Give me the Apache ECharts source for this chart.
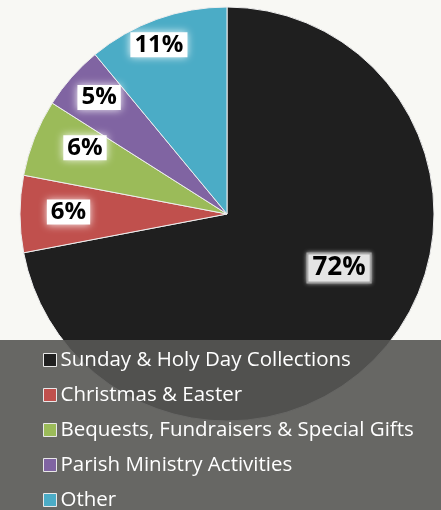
<!DOCTYPE html>
<html>
<head>
<meta charset="utf-8">
<script src="https://cdn.jsdelivr.net/npm/echarts@6/dist/echarts.min.js"></script>
<style>
html,body{margin:0;padding:0;background:#f8f8f4;}
#chart{width:441px;height:510px;}
</style>
</head>
<body>
<div id="chart"></div>
<script>
const categories = ['Sunday & Holy Day Collections', 'Christmas & Easter', 'Bequests, Fundraisers & Special Gifts', 'Parish Ministry Activities', 'Other'];
const values = [72, 6, 6, 5, 11];
const colors = ['#1f1f1f', '#c0504d', '#9bbb59', '#8064a2', '#4bacc6'];
// label nudges from the default inside position
const labelOffsets = [[30, -14], [-52, -2], [-43, -27], [-48, -46], [-32, -69]];

const chart = echarts.init(document.getElementById('chart'), null, {renderer: 'canvas'});

const data = categories.map((name, i) => {
  const big = i === 0;
  return {
    name: name,
    value: values[i],
    itemStyle: {color: colors[i]},
    label: {
      offset: labelOffsets[i],
      fontSize: big ? 26 : 24,
      backgroundColor: big ? '#e4e4e4' : '#ffffff',
      borderColor: big ? '#9a9a9a' : 'rgba(255,255,255,0.6)',
      borderWidth: big ? 2 : 0,
      shadowColor: big ? 'rgba(200,200,200,0.8)' : 'rgba(255,255,255,0.9)',
      shadowBlur: big ? 4 : 8
    }
  };
});

chart.setOption({
  backgroundColor: '#f8f8f4',
  animation: false,
  legend: {
    orient: 'vertical',
    left: 38,
    top: 344,
    height: 300,
    z: 20,
    itemWidth: 13,
    itemHeight: 13,
    itemGap: 13,
    icon: 'rect',
    itemStyle: {borderColor: '#e8e8e8', borderWidth: 1},
    textStyle: {color: '#ffffff', fontFamily: 'Open Sans', fontSize: 20.5, lineHeight: 22, padding: [0,0,0,-1]},
    data: categories
  },
  graphic: [{
    type: 'rect',
    z: 10,
    shape: {x: 0, y: 340, width: 441, height: 170},
    style: {fill: 'rgba(86,86,84,0.9)'}
  }],
  series: [{
    type: 'pie',
    center: [227, 214],
    radius: [0, 207],
    startAngle: 90,
    clockwise: true,
    z: 2,
    itemStyle: {borderColor: '#eeeeee', borderWidth: 1},
    label: {
      show: true,
      position: 'inside',
      formatter: '{c}%',
      color: '#000000',
      fontFamily: 'Open Sans',
      fontWeight: 'bold',
      padding: [1, 4, 0, 4]
    },
    labelLine: {show: false},
    emphasis: {disabled: true},
    data: data
  }]
});
</script>
</body>
</html>
